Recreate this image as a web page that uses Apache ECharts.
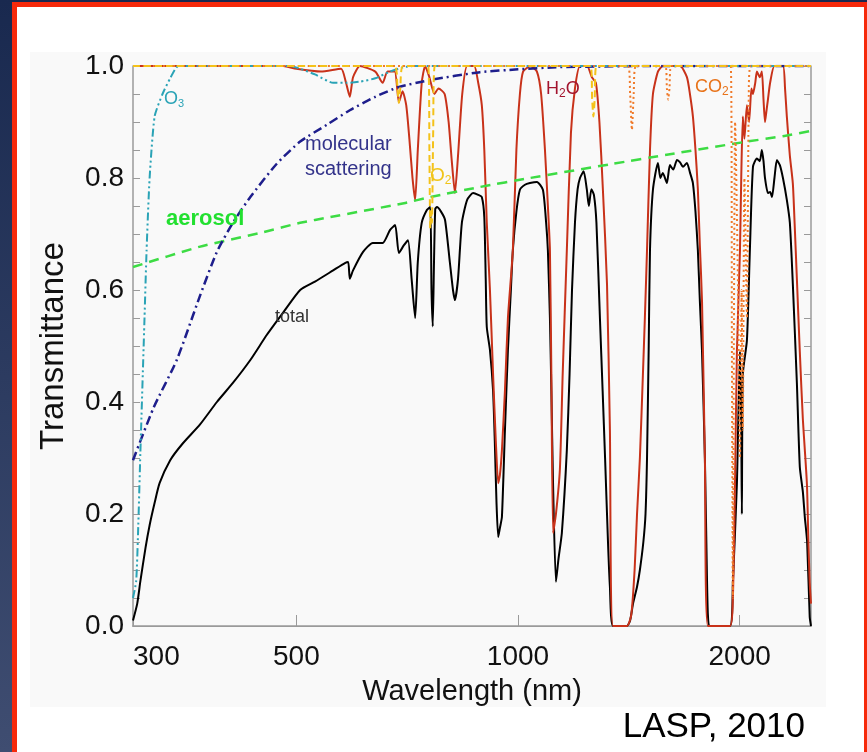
<!DOCTYPE html>
<html>
<head>
<meta charset="utf-8">
<script src="https://cdn.jsdelivr.net/npm/echarts@6/dist/echarts.min.js"></script>
<style>
  html, body { margin:0; padding:0; }
  body { width:867px; height:752px; position:relative; overflow:hidden;
         background: linear-gradient(#19294f, #3f4d71); }
  .abs { position:absolute; }
  #frame { left:12px; top:2px; width:855px; height:750px; background:#f6290b; }
  #white { left:17px; top:7px; width:847px; height:745px; background:#ffffff; }
  #panel { left:30px; top:52px; width:796px; height:655px; background:#f9f9f9; }
  #main { left:0; top:0; width:867px; height:752px; }
</style>
</head>
<body>
<div id="frame" class="abs"></div>
<div id="white" class="abs"></div>
<div id="panel" class="abs"></div>
<div id="main" class="abs"></div>
<script>
// ---- data (wavelength nm, transmittance) ----
const xTickValues = [300, 500, 1000, 2000];

const totalData = [[300,0.01],[304,0.04],[307,0.08],[312,0.14],[316,0.18],[321,0.22],[326,0.255],[337,0.296],[350,0.325],[370,0.36],[390,0.40],[410,0.434],[433,0.475],[456,0.52],[480,0.56],[506,0.60],[530,0.615],[561,0.635],[582,0.648],[588,0.65],[591,0.62],[597,0.635],[616,0.668],[635,0.684],[655,0.684],[670,0.707],[681,0.716],[689,0.666],[700,0.68],[709,0.689],[717,0.62],[725,0.55],[731,0.65],[740,0.72],[752,0.743],[760,0.748],[763,0.60],[766,0.535],[769,0.65],[772,0.745],[776,0.748],[786,0.74],[796,0.725],[808,0.65],[816,0.60],[821,0.582],[829,0.62],[839,0.72],[853,0.761],[869,0.773],[883,0.77],[893,0.766],[900,0.73],[904,0.62],[907,0.534],[916,0.493],[925,0.42],[930,0.33],[935,0.22],[940,0.159],[945,0.175],[951,0.195],[960,0.35],[969,0.493],[978,0.6],[984,0.671],[995,0.74],[1006,0.779],[1022,0.788],[1038,0.791],[1061,0.793],[1081,0.779],[1092,0.72],[1098,0.67],[1105,0.55],[1110,0.42],[1116,0.25],[1126,0.079],[1135,0.12],[1147,0.166],[1165,0.314],[1175,0.45],[1184,0.6],[1195,0.72],[1205,0.78],[1214,0.80],[1228,0.812],[1240,0.78],[1248,0.75],[1258,0.78],[1268,0.77],[1278,0.72],[1292,0.55],[1303,0.42],[1313,0.3],[1325,0.15],[1333,0.07],[1346,0.0],[1406,0.0],[1420,0.01],[1433,0.04],[1451,0.07],[1464,0.10],[1480,0.15],[1490,0.2],[1497,0.3],[1505,0.5],[1511,0.671],[1525,0.779],[1549,0.827],[1561,0.80],[1573,0.809],[1593,0.791],[1608,0.823],[1625,0.815],[1644,0.832],[1660,0.828],[1675,0.82],[1696,0.827],[1712,0.81],[1728,0.791],[1742,0.74],[1755,0.671],[1766,0.58],[1778,0.49],[1794,0.3],[1805,0.1],[1811,0.02],[1822,0.0],[1940,0.0],[1958,0.077],[1983,0.255],[2002,0.49],[2010,0.35],[2014,0.2],[2020,0.45],[2046,0.51],[2065,0.671],[2085,0.82],[2111,0.835],[2130,0.83],[2144,0.85],[2155,0.83],[2165,0.80],[2185,0.773],[2200,0.775],[2213,0.766],[2230,0.8],[2247,0.832],[2268,0.823],[2290,0.80],[2318,0.761],[2340,0.72],[2362,0.61],[2392,0.434],[2414,0.284],[2437,0.24],[2452,0.195],[2470,0.15],[2490,0.016],[2500,0.0]];

const h2oData = [[300,1],[480,1],[500,0.995],[540,0.99],[575,0.995],[584,0.97],[591,0.945],[597,0.98],[610,1],[640,0.99],[655,0.97],[665,0.99],[680,0.99],[689,0.935],[697,0.955],[705,0.93],[712,0.87],[719,0.80],[725,0.76],[731,0.85],[740,0.97],[748,1.0],[758,0.98],[770,0.95],[780,0.96],[795,0.95],[805,0.9],[813,0.83],[821,0.773],[829,0.84],[840,0.95],[853,1.0],[872,1.0],[883,0.97],[893,0.93],[900,0.85],[907,0.72],[916,0.6],[925,0.45],[933,0.33],[940,0.255],[945,0.27],[951,0.314],[960,0.42],[969,0.55],[984,0.671],[995,0.85],[1006,0.95],[1016,0.99],[1040,1.0],[1061,0.99],[1075,0.95],[1088,0.85],[1098,0.75],[1105,0.671],[1110,0.45],[1116,0.166],[1126,0.2],[1140,0.28],[1150,0.45],[1165,0.671],[1180,0.88],[1195,0.96],[1214,1.0],[1241,1.0],[1260,0.98],[1276,0.97],[1290,0.9],[1304,0.78],[1321,0.61],[1333,0.35],[1346,0.0],[1406,0.0],[1425,0.02],[1440,0.1],[1451,0.2],[1464,0.3],[1478,0.45],[1487,0.55],[1497,0.671],[1511,0.85],[1525,0.95],[1549,0.99],[1573,1.0],[1660,1.0],[1696,0.98],[1712,0.95],[1728,0.91],[1742,0.85],[1755,0.78],[1766,0.68],[1778,0.58],[1794,0.3],[1811,0.0],[1940,0.0],[1958,0.05],[1971,0.25],[1983,0.49],[2002,0.67],[2010,0.8],[2020,0.91],[2030,0.87],[2046,0.93],[2060,0.90],[2075,0.96],[2085,0.95],[2100,0.97],[2111,0.99],[2130,0.98],[2144,0.99],[2155,0.94],[2165,0.9],[2175,0.92],[2185,0.94],[2200,0.97],[2230,1.0],[2290,1.0],[2305,0.96],[2318,0.91],[2340,0.84],[2362,0.79],[2375,0.72],[2392,0.62],[2414,0.49],[2437,0.37],[2468,0.255],[2480,0.15],[2490,0.077],[2500,0.04]];

const o3Data = [[300,0.05],[303,0.08],[305,0.18],[307,0.31],[311,0.55],[313,0.67],[316,0.8],[321,0.91],[329,0.95],[337,0.978],[346,1.0],[490,1.0],[506,0.995],[530,0.985],[561,0.97],[586,0.97],[610,0.972],[640,0.978],[670,0.99],[700,0.998],[720,1.0],[2500,1.0]];

const molecularData = [[300,0.296],[320,0.39],[344,0.475],[370,0.59],[390,0.668],[410,0.72],[433,0.766],[470,0.825],[506,0.865],[550,0.895],[591,0.921],[640,0.945],[689,0.9625],[760,0.975],[888,0.989],[1000,0.994],[1140,0.998],[1500,1.0],[2500,1.0]];

const aerosolData = [[300,0.641],[369,0.677],[450,0.703],[506,0.72],[555,0.73],[700,0.755],[760,0.766],[888,0.784],[1038,0.80],[1341,0.825],[1600,0.842],[2046,0.865],[2300,0.875],[2500,0.884]];

const o2Data = [[300,1],[680,1],[686,0.96],[689,0.934],[692,0.96],[698,1],[755,1],[758,0.85],[760,0.71],[762,0.74],[764,0.72],[767,0.88],[771,1],[1255,1],[1261,0.94],[1266,0.91],[1271,0.94],[1278,1],[2500,1]];

const co2Data = [[300,1],[1410,1],[1420,0.95],[1428,0.886],[1436,0.95],[1446,1],[1585,1],[1593,0.96],[1599,0.94],[1606,0.96],[1615,1],[1945,1],[1952,0.5],[1958,0.05],[1964,0.5],[1972,0.9],[1990,0.6],[2002,0.3],[2012,0.6],[2020,0.35],[2030,0.8],[2046,0.55],[2058,0.95],[2070,1],[2500,1]];

// ---- chart ----
const narrow = "'Liberation Sans Narrow', 'Arial Narrow', 'Liberation Sans', sans-serif";
const sans = "'Liberation Sans', Arial, sans-serif";
const axisGray = '#9a9a9a';

const chart = echarts.init(document.getElementById('main'), null, {renderer: 'canvas'});

function line(name, data, color, width, type, z) {
  return {
    name, type: 'line', data, showSymbol: false, symbol: 'none', smooth: 0.2,
    xAxisIndex: 0, yAxisIndex: 0, z: z, silent: true,
    lineStyle: { color, width, type, cap: 'butt', join: 'round' }
  };
}

const option = {
  animation: false,
  backgroundColor: 'transparent',
  grid: { left: 133, right: 56, top: 66, bottom: 126, show: false },
  xAxis: [{
    type: 'log', logBase: 10, min: 300, max: 2500, position: 'bottom',
    axisLine: { show: true, lineStyle: { color: axisGray, width: 1.5 } },
    axisTick: { show: true, inside: true, length: 11, customValues: xTickValues, lineStyle: { color: axisGray } },
    axisLabel: { customValues: xTickValues, alignMinLabel: 'left', fontSize: 28, fontFamily: narrow, color: '#111', margin: 17,
                 formatter: v => String(Math.round(v)) },
    minorTick: { show: false }, splitLine: { show: false },
    name: 'Wavelength (nm)', nameLocation: 'middle', nameGap: 51,
    nameTextStyle: { fontSize: 29, fontFamily: narrow, color: '#111' }
  }, {
    type: 'log', logBase: 10, min: 300, max: 2500, position: 'top',
    axisLine: { show: true, lineStyle: { color: axisGray, width: 1 } },
    axisTick: { show: false }, axisLabel: { show: false }, splitLine: { show: false }
  }],
  yAxis: [{
    type: 'value', min: 0, max: 1, interval: 0.2, position: 'left',
    axisLine: { show: true, lineStyle: { color: axisGray, width: 1.5 } },
    axisTick: { show: true, inside: true, length: 7, lineStyle: { color: axisGray } },
    minorTick: { show: true, splitNumber: 4, length: 7, lineStyle: { color: axisGray } },
    axisLabel: { fontSize: 28, fontFamily: narrow, color: '#111', margin: 9, formatter: v => v.toFixed(1) },
    splitLine: { show: false },
    name: 'Transmittance', nameLocation: 'middle', nameGap: 63, nameRotate: 90,
    nameTextStyle: { fontSize: 33, fontFamily: narrow, color: '#111' }
  }, {
    type: 'value', min: 0, max: 1, interval: 0.2, position: 'right',
    axisLine: { show: true, lineStyle: { color: axisGray, width: 1.5 } },
    axisTick: { show: true, inside: true, length: 7, lineStyle: { color: axisGray } },
    minorTick: { show: true, splitNumber: 4, length: 7, lineStyle: { color: axisGray } },
    axisLabel: { show: false }, splitLine: { show: false }
  }],
  series: [
    line('total', totalData, '#000000', 2, 'solid', 3),
    line('H2O', h2oData, '#c8321a', 2, 'solid', 4),
    line('aerosol', aerosolData, '#3ddc44', 2.5, [10, 7], 5),
    line('molecular scattering', molecularData, '#1e1e8c', 2.5, [9, 4, 2, 4], 6),
    line('O3', o3Data, '#2aa3b6', 2, [8, 3, 2, 3, 2, 3], 7),
    line('CO2', co2Data, '#f07a2a', 2, [2, 3], 8),
    line('O2', o2Data, '#f4c21a', 2, [7, 4], 9)
  ],
  graphic: [
    { type: 'text', left: 164, top: 90, z: 100, silent: true,
      style: { text: 'O{s|3}', fill: '#2aa3b6', font: '18px ' + sans,
        rich: { s: { fontSize: 11, fill: '#2aa3b6', padding: [10, 0, 0, 0] } } } },
    { type: 'text', left: 305, top: 132, z: 100, silent: true,
      style: { text: 'molecular\nscattering', fill: '#33338a', font: '20px ' + sans, lineHeight: 25 } },
    { type: 'text', left: 166, top: 208, z: 100, silent: true,
      style: { text: 'aerosol', fill: '#22e030', font: 'bold 22px ' + sans } },
    { type: 'text', left: 275, top: 308, z: 100, silent: true,
      style: { text: 'total', fill: '#333333', font: '18px ' + sans } },
    { type: 'text', left: 546, top: 80, z: 100, silent: true,
      style: { text: 'H{s|2}O', fill: '#a3142e', font: '18px ' + sans,
        rich: { s: { fontSize: 12, fill: '#a3142e', padding: [10, 0, 0, 0] } } } },
    { type: 'text', left: 695, top: 78, z: 100, silent: true,
      style: { text: 'CO{s|2}', fill: '#e8731a', font: '18px ' + sans,
        rich: { s: { fontSize: 12, fill: '#e8731a', padding: [10, 0, 0, 0] } } } },
    { type: 'text', left: 430, top: 166, z: 100, silent: true,
      style: { text: 'O{s|2}', fill: '#f0c418', font: '19px ' + sans,
        rich: { s: { fontSize: 12, fill: '#f0c418', padding: [10, 0, 0, 0] } } } },
    { type: 'text', right: 62, top: 710, z: 100, silent: true,
      style: { text: 'LASP, 2010', fill: '#000000', font: '35px ' + narrow } }
  ]
};
chart.setOption(option);
</script>
</body>
</html>
